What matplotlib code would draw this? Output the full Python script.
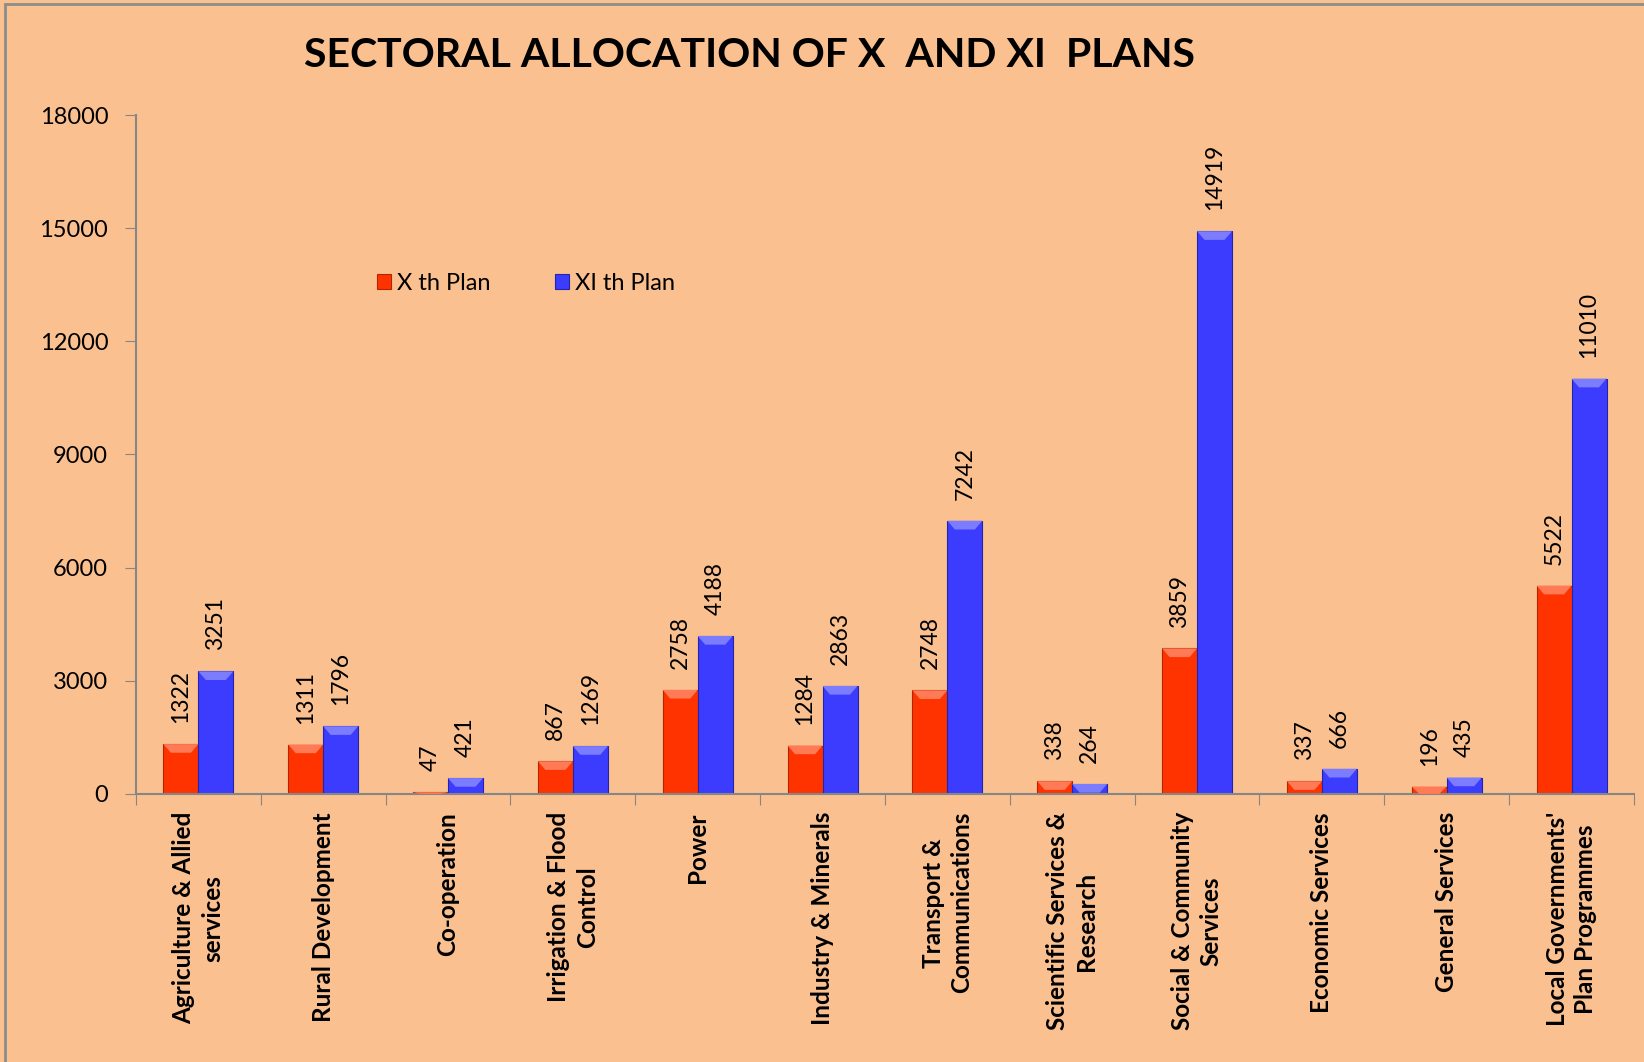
import numpy as np
import matplotlib
matplotlib.use("Agg")
import matplotlib.pyplot as plt
from matplotlib.patches import Polygon, Rectangle

# data
sectors = [
    "Agriculture & Allied\nservices",
    "Rural Development",
    "Co-operation",
    "Irrigation & Flood\nControl",
    "Power",
    "Industry & Minerals",
    "Transport &\nCommunications",
    "Scientific Services &\nResearch",
    "Social & Community\nServices",
    "Economic Services",
    "General Services",
    "Local Governments'\nPlan Programmes",
]
plan_x = [1322, 1311, 47, 867, 2758, 1284, 2748, 338, 3859, 337, 196, 5522]
plan_xi = [3251, 1796, 421, 1269, 4188, 2863, 7242, 264, 14919, 666, 435, 11010]
series_names = ["X th Plan", "XI th Plan"]
yticks = [0, 3000, 6000, 9000, 12000, 15000, 18000]

bg = "#FAC090"
red = "#FF3300"
blue = "#3C3CFF"
red_light = "#FF7A55"
blue_light = "#7C7CFF"
axis_col = "#868686"

plt.rcParams["font.family"] = ["Lato", "DejaVu Sans"]

fig = plt.figure(figsize=(16.44, 10.62), dpi=100, facecolor=bg)
ax = fig.add_axes([0.0827, 0.2524, 0.9939 - 0.0827, 0.8917 - 0.2524])
ax.set_facecolor(bg)

x = np.arange(len(sectors))
w = 0.28
bars1 = ax.bar(x - w / 2, plan_x, w, color=red, edgecolor="#B32400", linewidth=0.8,
               label=series_names[0], zorder=2)
bars2 = ax.bar(x + w / 2, plan_xi, w, color=blue, edgecolor="#2424A8", linewidth=0.8,
               label=series_names[1], zorder=2)

# bevel-like lighter top on each bar
def add_bevel(bars, light):
    for b in bars:
        x0 = b.get_x()
        x1 = x0 + b.get_width()
        top = b.get_height()
        h = min(230, top)
        d = 0.06
        poly = Polygon([(x0, top), (x1, top), (x1 - d, top - h), (x0 + d, top - h)],
                       closed=True, facecolor=light, edgecolor="none", zorder=3)
        ax.add_patch(poly)

add_bevel(bars1, red_light)
add_bevel(bars2, blue_light)

for bars in (bars1, bars2):
    for b in bars:
        ax.annotate(f"{int(b.get_height())}",
                    (b.get_x() + b.get_width() / 2, b.get_height()),
                    xytext=(0, 15), textcoords="offset points",
                    rotation=90, ha="center", va="bottom", fontsize=16.5, color="black")

ax.set_xlim(-0.5, len(sectors) - 0.5)
ax.set_ylim(0, 18000)
ax.set_yticks(yticks)
ax.set_yticklabels([str(t) for t in yticks], fontsize=17)
ax.tick_params(axis="y", length=8, color=axis_col, pad=12)
ax.set_xticks(np.arange(len(sectors) + 1) - 0.5)
ax.set_xticklabels([])
ax.tick_params(axis="x", length=8, color=axis_col)

for i, name in enumerate(sectors):
    ax.text(i, -480, name, rotation=90, ha="center", va="top", linespacing=1.3,
            multialignment="center", fontsize=17.5, fontweight="bold")

for side in ("top", "right"):
    ax.spines[side].set_visible(False)
for side in ("left", "bottom"):
    ax.spines[side].set_color(axis_col)
    ax.spines[side].set_linewidth(1.5)

fig.text(0.456, 0.948, "SECTORAL ALLOCATION OF X  AND XI  PLANS", ha="center", va="center",
         fontsize=29.5, fontweight="bold")

ax.legend(loc="center left", bbox_to_anchor=(0.222, 0.733), bbox_transform=fig.transFigure,
          ncol=2, frameon=False, fontsize=17, handlelength=0.6, handleheight=0.6,
          handletextpad=0.25, columnspacing=2.75, borderpad=0)

# outer chart border (left and top visible)
fig.add_artist(Rectangle((5 / 1644, -0.05), 1.2, 1 - 4 / 1062 + 0.05, transform=fig.transFigure,
                         fill=False, edgecolor="#8C8C8C", linewidth=2))

fig.savefig("out.png", dpi=100, facecolor=bg)
